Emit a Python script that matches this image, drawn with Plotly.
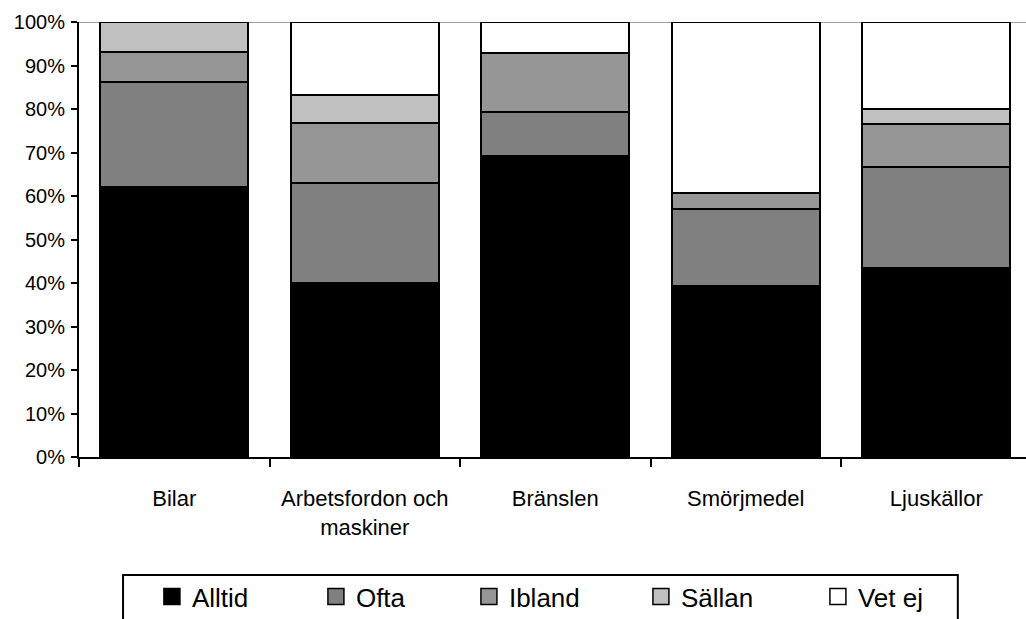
import plotly.graph_objects as go

categories = ["Bilar", "Arbetsfordon och<br>maskiner", "Bränslen", "Smörjmedel", "Ljuskällor"]
series_names = ["Alltid", "Ofta", "Ibland", "Sällan", "Vet ej"]
alltid = [62.1, 40.0, 69.3, 39.3, 43.5]
ofta = [24.1, 23.0, 10.1, 17.7, 23.2]
ibland = [6.9, 13.7, 13.5, 3.8, 9.9]
sallan = [6.9, 6.5, 0.0, 0.0, 3.3]
vet_ej = [0.0, 16.8, 7.1, 39.2, 20.1]
y_ticks = [0, 10, 20, 30, 40, 50, 60, 70, 80, 90, 100]

series_values = [alltid, ofta, ibland, sallan, vet_ej]
colors = ["#000000", "#808080", "#969696", "#C0C0C0", "#FFFFFF"]
legend_widths = [119, 108, 127, 132, 100]

fig = go.Figure()
for name, vals, col in zip(series_names, series_values, colors):
    fig.add_trace(go.Bar(
        x=categories, y=vals, name=name, showlegend=False,
        marker=dict(color=col, line=dict(color="#000000", width=2)),
        hoverinfo="x+y+name",
    ))
for name, col, lw in zip(series_names, colors, legend_widths):
    fig.add_trace(go.Scatter(
        x=[None], y=[None], mode="markers", name=name, legendwidth=lw,
        marker=dict(symbol="square", size=16, color=col,
                    line=dict(color="#000000", width=1.5)),
    ))

fig.update_layout(
    width=1026, height=619,
    margin=dict(l=79, r=0, t=22, b=162, autoexpand=False),
    paper_bgcolor="white", plot_bgcolor="white",
    barmode="stack", bargap=0.223,
    font=dict(family="Liberation Sans, Arial, sans-serif", color="#000000"),
    showlegend=True,
    legend=dict(
        orientation="h", traceorder="normal",
        x=0.077, xanchor="left", y=-0.267, yanchor="top",
        font=dict(size=26, family="Liberation Sans, Arial, sans-serif"),
        borderwidth=0, bgcolor="rgba(0,0,0,0)",
    ),
    shapes=[
        dict(type="line", xref="paper", yref="y", x0=0, x1=1, y0=100, y1=100,
             line=dict(color="#A0A0A0", width=2), layer="below"),
        dict(type="rect", xref="paper", yref="paper", x0=0.0465, x1=0.928,
             y0=-0.2713, y1=-0.45, line=dict(color="#000000", width=2),
             fillcolor="rgba(0,0,0,0)", layer="below"),
    ],
)
fig.update_xaxes(
    type="category", range=[-0.5, 4.471], automargin=False,
    showline=True, linecolor="#000000", linewidth=2,
    ticks="outside", tickson="boundaries", ticklen=8, tickwidth=2, tickcolor="#000000",
    tickangle=0,
    tickfont=dict(size=22, family="Liberation Sans, Arial, sans-serif"),
    ticklabelstandoff=21,
    showgrid=False, zeroline=False,
)
fig.update_yaxes(
    range=[0, 100], tickvals=y_ticks, ticktext=[f"{v}%" for v in y_ticks],
    automargin=False,
    showline=True, linecolor="#000000", linewidth=2,
    ticks="outside", ticklen=6, tickwidth=2, tickcolor="#000000",
    tickfont=dict(size=20), ticklabelstandoff=2,
    showgrid=False, zeroline=False,
)

fig.write_html("out.html", config={"displayModeBar": False},
               post_script="document.body.style.margin='0';")
